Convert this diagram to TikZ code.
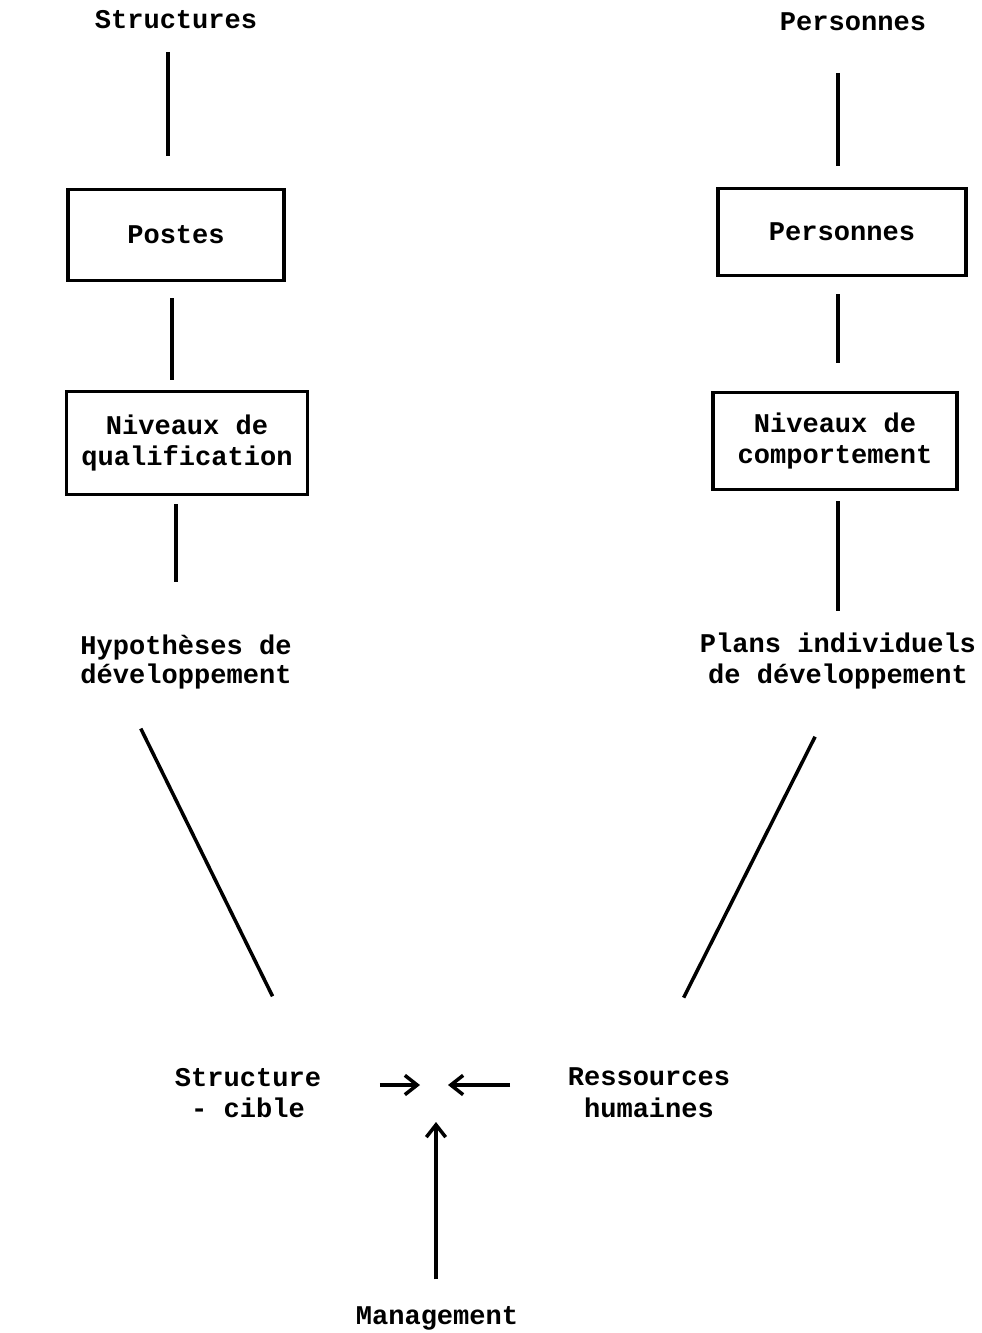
\documentclass[tikz,border=0pt]{standalone}
\usepackage{fontspec}
\setmonofont{Liberation Mono}
\usetikzlibrary{arrows.meta,calc}

\begin{document}
\begin{tikzpicture}[x=0.02cm,y=-0.02cm,line width=2pt,
                    >={Straight Barb[length=7pt,width=11pt,line width=2pt]},
                    font=\fontsize{15.4}{18}\selectfont\ttfamily\bfseries,
                    box/.style={draw,rectangle,align=center,inner sep=0pt,line width=1.8pt},
                    lbl/.style={align=center,inner sep=0pt}]

  \useasboundingbox (0,0) rectangle (982,1333);

  \node[lbl]                                            (struct)  at (176,20)   {Structures};
  \node[box,minimum width=4.32cm,minimum height=1.82cm] (postes)  at (176,235)  {Postes};
  \node[box,minimum width=4.82cm,minimum height=2.06cm] (qualif)  at (187,443)  {Niveaux de\\qualification};
  \node[lbl,font=\fontsize{15.4}{16}\selectfont\ttfamily\bfseries]
                                                        (hypo)    at (186,662)  {Hypothèses de\\développement};

  \node[lbl]                                            (pers)    at (853,22)   {Personnes};
  \node[box,minimum width=4.96cm,minimum height=1.74cm] (personnes) at (842,232) {Personnes};
  \node[box,minimum width=4.88cm,minimum height=1.94cm] (comport) at (835,441)  {Niveaux de\\comportement};
  \node[lbl]                                            (plans)   at (838,661)  {Plans individuels\\de développement};

  \node[lbl]                                            (cible)   at (248,1093) {Structure\\- cible};
  \node[lbl]                                            (rh)      at (649,1093) {Ressources\\humaines};
  \node[lbl]                                            (mgmt)    at (437,1318) {Management};
  \coordinate (meet) at (436,1085);

  % vertical links, left column
  \draw[shorten <=0.42cm,shorten >=0.64cm] ([xshift=-0.16cm]struct.south) -- ([xshift=-0.16cm]struct.south |- postes.north);
  \draw[shorten <=0.32cm,shorten >=0.2cm]  ([xshift=-0.08cm]postes.south) -- ([xshift=-0.08cm]postes.south |- qualif.north);
  \draw[shorten <=0.16cm,shorten >=1.04cm] (qualif.south -| postes.south) -- (postes.south |- hypo.north);

  % vertical links, right column
  \draw[shorten <=0.8cm,shorten >=0.42cm]  (pers.south -| plans.north) -- (personnes.north -| plans.north);
  \draw[shorten <=0.34cm,shorten >=0.56cm] (personnes.south -| plans.north) -- (comport.north -| plans.north);
  \draw[shorten <=0.2cm,shorten >=0.4cm]   (comport.south -| plans.north) -- (plans.north);

  \draw[shorten <=0.85cm,shorten >=1.56cm] ([xshift=-1.28cm]hypo.south) -- ([xshift=1.18cm]cible.north);
  \draw[shorten <=1.02cm,shorten >=1.54cm] (plans.south) -- (rh.north);

  \draw[->,shorten <=1.14cm,shorten >=0.32cm] (cible.east |- meet) -- (meet);
  \draw[->,shorten <=1.12cm,shorten >=0.24cm] (rh.west |- meet) -- (meet);
  \draw[->,shorten <=0.5cm,shorten >=0.74cm] (mgmt.north -| meet) -- (meet);
\end{tikzpicture}
\end{document}
